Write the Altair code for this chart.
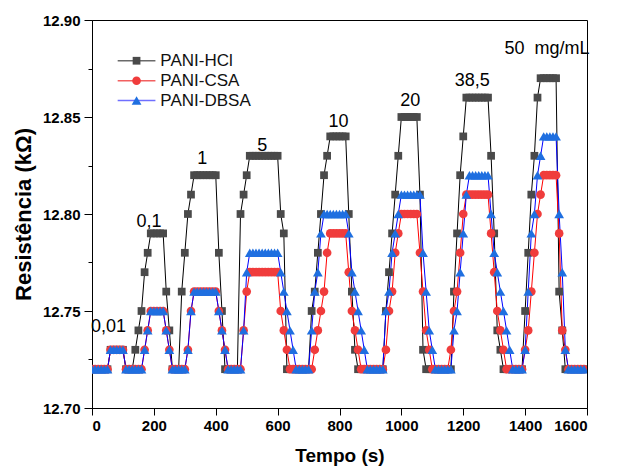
import altair as alt
import pandas as pd

series_names = ["PANI-HCl", "PANI-CSA", "PANI-DBSA"]
time_s = [10 * i for i in range(160)]  # sampling every 10 s

hcl_kohm = [
    12.72, 12.72, 12.72, 12.72, 12.72, 12.72, 12.73, 12.73, 12.73, 12.73,
    12.73, 12.72, 12.72, 12.72, 12.73, 12.74, 12.75, 12.77, 12.78, 12.79,
    12.79, 12.79, 12.79, 12.79, 12.76, 12.74, 12.72, 12.72, 12.72, 12.76,
    12.78, 12.80, 12.81, 12.82, 12.82, 12.82, 12.82, 12.82, 12.82, 12.82,
    12.82, 12.78, 12.75, 12.72, 12.72, 12.72, 12.72, 12.72, 12.80, 12.81,
    12.82, 12.83, 12.83, 12.83, 12.83, 12.83, 12.83, 12.83, 12.83, 12.83,
    12.83, 12.80, 12.79, 12.72, 12.72, 12.72, 12.72, 12.72, 12.72, 12.72,
    12.72, 12.75, 12.76, 12.78, 12.80, 12.82, 12.83, 12.84, 12.84, 12.84,
    12.84, 12.84, 12.84, 12.80, 12.76, 12.73, 12.72, 12.72, 12.72, 12.72,
    12.72, 12.72, 12.72, 12.72, 12.72, 12.75, 12.77, 12.79, 12.81, 12.83,
    12.85, 12.85, 12.85, 12.85, 12.85, 12.85, 12.81, 12.73, 12.72, 12.72,
    12.72, 12.72, 12.72, 12.72, 12.72, 12.72, 12.72, 12.76, 12.79, 12.82,
    12.84, 12.86, 12.86, 12.86, 12.86, 12.86, 12.86, 12.86, 12.86, 12.83,
    12.79, 12.74, 12.73, 12.72, 12.72, 12.72, 12.72, 12.72, 12.72, 12.72,
    12.75, 12.78, 12.81, 12.83, 12.86, 12.87, 12.87, 12.87, 12.87, 12.87,
    12.87, 12.76, 12.74, 12.72, 12.72, 12.72, 12.72, 12.72, 12.72, 12.72,
]

csa_kohm = [
    12.72, 12.72, 12.72, 12.72, 12.72, 12.72, 12.73, 12.73, 12.73, 12.73,
    12.73, 12.72, 12.72, 12.72, 12.72, 12.72, 12.72, 12.73, 12.74, 12.75,
    12.75, 12.75, 12.75, 12.75, 12.74, 12.73, 12.72, 12.72, 12.72, 12.72,
    12.72, 12.73, 12.75, 12.76, 12.76, 12.76, 12.76, 12.76, 12.76, 12.76,
    12.76, 12.75, 12.74, 12.73, 12.72, 12.72, 12.72, 12.72, 12.72, 12.74,
    12.76, 12.77, 12.77, 12.77, 12.77, 12.77, 12.77, 12.77, 12.77, 12.77,
    12.77, 12.75, 12.74, 12.73, 12.72, 12.72, 12.72, 12.72, 12.72, 12.72,
    12.72, 12.72, 12.73, 12.74, 12.75, 12.76, 12.78, 12.79, 12.79, 12.79,
    12.79, 12.79, 12.79, 12.77, 12.75, 12.74, 12.73, 12.72, 12.72, 12.72,
    12.72, 12.72, 12.72, 12.72, 12.72, 12.73, 12.75, 12.76, 12.78, 12.79,
    12.80, 12.80, 12.80, 12.80, 12.80, 12.80, 12.78, 12.76, 12.74, 12.73,
    12.72, 12.72, 12.72, 12.72, 12.72, 12.72, 12.73, 12.75, 12.76, 12.78,
    12.80, 12.81, 12.81, 12.81, 12.81, 12.81, 12.81, 12.81, 12.81, 12.79,
    12.77, 12.75, 12.74, 12.73, 12.72, 12.72, 12.72, 12.72, 12.72, 12.72,
    12.73, 12.74, 12.76, 12.78, 12.80, 12.81, 12.82, 12.82, 12.82, 12.82,
    12.82, 12.79, 12.74, 12.73, 12.72, 12.72, 12.72, 12.72, 12.72, 12.72,
]

dbsa_kohm = [
    12.72, 12.72, 12.72, 12.72, 12.72, 12.72, 12.73, 12.73, 12.73, 12.73,
    12.73, 12.72, 12.72, 12.72, 12.72, 12.72, 12.72, 12.73, 12.74, 12.75,
    12.75, 12.75, 12.75, 12.75, 12.74, 12.73, 12.72, 12.72, 12.72, 12.72,
    12.72, 12.73, 12.75, 12.76, 12.76, 12.76, 12.76, 12.76, 12.76, 12.76,
    12.76, 12.75, 12.74, 12.73, 12.72, 12.72, 12.72, 12.72, 12.72, 12.74,
    12.77, 12.78, 12.78, 12.78, 12.78, 12.78, 12.78, 12.78, 12.78, 12.78,
    12.78, 12.77, 12.76, 12.75, 12.74, 12.73, 12.72, 12.72, 12.72, 12.72,
    12.72, 12.74, 12.76, 12.77, 12.79, 12.80, 12.80, 12.80, 12.80, 12.80,
    12.80, 12.80, 12.80, 12.79, 12.77, 12.76, 12.75, 12.74, 12.73, 12.72,
    12.72, 12.72, 12.72, 12.72, 12.72, 12.75, 12.76, 12.78, 12.79, 12.80,
    12.81, 12.81, 12.81, 12.81, 12.81, 12.81, 12.81, 12.78, 12.76, 12.74,
    12.73, 12.72, 12.72, 12.72, 12.72, 12.72, 12.72, 12.74, 12.75, 12.77,
    12.79, 12.81, 12.82, 12.82, 12.82, 12.82, 12.82, 12.82, 12.82, 12.80,
    12.78, 12.77, 12.76, 12.75, 12.74, 12.73, 12.72, 12.72, 12.72, 12.72,
    12.73, 12.76, 12.79, 12.80, 12.82, 12.83, 12.84, 12.84, 12.84, 12.84,
    12.84, 12.80, 12.77, 12.73, 12.72, 12.72, 12.72, 12.72, 12.72, 12.72,
]

# concentration annotations (text, anchor time, anchor resistance)
conc_labels = ["0,01", "0,1", "1", "5", "10", "20", "38,5", "50\u00a0\u00a0mg/mL"]
conc_t = [53, 184, 356, 550, 797, 1029, 1229, 1471]
conc_v = [12.7415, 12.796, 12.8286, 12.8349, 12.8473, 12.858, 12.8687, 12.8851]

x_ticks = list(range(0, 1601, 100))
y_ticks = [12.70, 12.725, 12.75, 12.775, 12.80, 12.825, 12.85, 12.875, 12.90]

FONT = "Arial"

styles = [
    dict(line="#000000", fill="#4a4a4a", shape="square", size=60, leg="#6a6a6a"),
    dict(line="#ff0000", fill="#f03c3c", shape="circle", size=75, leg="#f26060"),
    dict(line="#0000ff", fill="#1f6fe0", shape="triangle-up", size=95, leg="#6f6fff"),
]

xscale = alt.Scale(domain=[0, 1600], nice=False)
yscale = alt.Scale(domain=[12.70, 12.90], nice=False, zero=False)

xaxis = alt.Axis(
    values=x_ticks,
    labelExpr="datum.value % 200 === 0 ? datum.label : ''",
    tickSize={"condition": {"test": "datum.value % 200 === 0", "value": 7}, "value": 4},
    title="Tempo (s)",
    titleFontSize=19,
    grid=False,
    labelPadding=3,
    titlePadding=13,
    format="d",
)
yaxis = alt.Axis(
    values=y_ticks,
    labelExpr="round(datum.value * 1000) % 50 === 0 ? format(datum.value, '.2f') : ''",
    tickSize={"condition": {"test": "round(datum.value * 1000) % 50 === 0", "value": 8}, "value": 4},
    title="Resistência (kΩ)",
    titleFontSize=22,
    grid=False,
    labelPadding=4,
    titlePadding=7,
)

X = alt.X("t:Q", scale=xscale, axis=xaxis)
Y = alt.Y("r:Q", scale=yscale, axis=yaxis)

frames = []
for name, vals in zip(series_names, [hcl_kohm, csa_kohm, dbsa_kohm]):
    frames.append(pd.DataFrame({"series": name, "t": time_s, "r": vals}))

line_layers = []
point_layers = []
for df, st in zip(frames, styles):
    line_layers.append(
        alt.Chart(df).mark_line(color=st["line"], strokeWidth=1, clip=True).encode(x=X, y=Y)
    )
    point_layers.append(
        alt.Chart(df).mark_point(
            shape=st["shape"], filled=True, size=st["size"], color=st["fill"], opacity=1, clip=True
        ).encode(x=X, y=Y)
    )

ann_df = pd.DataFrame({"label": conc_labels, "t": conc_t, "r": conc_v})
ann = alt.Chart(ann_df).mark_text(
    font=FONT, fontSize=18, color="black", align="center", baseline="middle"
).encode(x=X, y=Y, text="label:N")

# legend drawn in data space (upper-left corner)
leg_rows = [12.8790, 12.8687, 12.8585]
leg_df = pd.DataFrame({"series": series_names, "r": leg_rows})
leg_layers = []
for i, st in enumerate(styles):
    sub = leg_df.iloc[[i]]
    leg_layers.append(
        alt.Chart(sub).mark_rule(color=st["leg"], strokeWidth=1.5).encode(
            x=alt.datum(83), x2=alt.datum(205), y=Y
        )
    )
    leg_layers.append(
        alt.Chart(sub).mark_point(shape=st["shape"], filled=True, size=st["size"],
                                  color=st["fill"], opacity=1).encode(x=alt.datum(144), y=Y)
    )
leg_text = alt.Chart(leg_df).mark_text(
    font=FONT, fontSize=17, color="#111111", align="left", baseline="middle", dx=0
).encode(x=alt.datum(221), y=Y, text="series:N")

chart = alt.layer(
    *line_layers, *point_layers, ann, *leg_layers, leg_text
).properties(
    width=495,
    height=388,
    autosize=alt.AutoSizeParams(type="none"),
    padding={"left": 84, "top": 12, "right": 23, "bottom": 58},
).configure_view(
    stroke="black", strokeWidth=1
).configure_axis(
    domainColor="black",
    domainWidth=1,
    tickColor="black",
    tickWidth=1,
    labelFont=FONT,
    labelFontSize=15,
    labelFontWeight="bold",
    labelColor="black",
    titleFont=FONT,
    titleFontWeight="bold",
    titleColor="black",
)

chart.save("out.html", embed_options={"renderer": "svg", "actions": False})
